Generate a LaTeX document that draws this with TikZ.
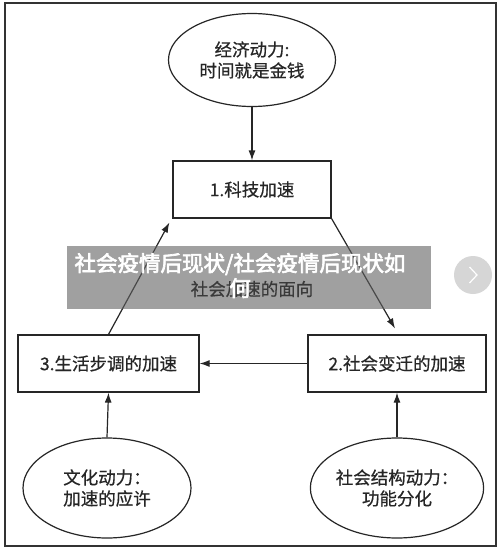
\documentclass[tikz,border=0pt]{standalone}
\usepackage{fontspec}
\newfontfamily\cjk{Noto Sans CJK SC}[FakeBold=0.6]
\newfontfamily\cjkb{Noto Sans CJK SC}[FakeBold=3]
\usetikzlibrary{shapes.geometric,arrows.meta,calc}
\tikzset{
  base/.style={draw=black!85, line width=1.2pt, font=\cjk\fontsize{17.5}{21}\selectfont, text=black!85, align=center, inner sep=0pt},
  ell/.style={base, ellipse},
  boxnode/.style={base, rectangle},
  arr/.style={draw=black!85, line width=1.2pt, -{Latex[length=10pt,width=7pt]}},
  frame/.style={draw=black!80, line width=1.5pt},
}
\begin{document}
\begin{tikzpicture}[x=1pt,y=-1pt]
\useasboundingbox (0,0) rectangle (500,555);
\fill[white] (0,0) rectangle (500,555);
\draw[frame] (5,3) rectangle (496,546);

\node[ell, minimum width=167pt, minimum height=93pt] (eco) at (252,60) {经济动力:\\时间就是金钱};
\node[boxnode, minimum width=158pt, minimum height=57pt] (b1) at (252,189.5) {1.科技加速};
\node[boxnode, minimum width=181pt, minimum height=57pt] (b3) at (108.5,363.5) {3.生活步调的加速};
\node[boxnode, minimum width=178pt, minimum height=57pt] (b2) at (397,363.5) {2.社会变迁的加速};
\node[ell, minimum width=168pt, minimum height=100pt] (cul) at (107,488) {文化动力：\\加速的应许};
\node[ell, minimum width=167pt, minimum height=100pt] (soc) at (397,488) {社会结构动力：\\功能分化};
\node[font=\cjk\fontsize{17.5}{21}\selectfont, text=black, inner sep=0pt] (mid) at (252,289) {社会加速的面向};

\draw[arr] (eco.south) -- (b1.north);
\draw[arr] (b1.south east) -- ($(b2.north)+(-2,-6)$);
\draw[arr] (b2.west) -- (b3.east);
\draw[arr] (b3.north) -- ($(b1.south west)+(-3,4)$);
\draw[arr] (cul.north) -- (b3.south);
\draw[arr] (soc.north) -- (b2.south);

% overlay banner
\fill[black!62, opacity=0.6] (67,246) rectangle (431,309);
\node[font=\cjkb\fontsize{21.5}{25}\selectfont, text=white, align=center, inner sep=0pt] (banner) at (240,275.5) {社会疫情后现状/社会疫情后现状如\\何};
\fill[black!20, opacity=0.8] (473,275) circle (19);
\draw[white, line width=1.2pt] (469.5,267) -- (477,275) -- (469.5,283);
\end{tikzpicture}
\end{document}
